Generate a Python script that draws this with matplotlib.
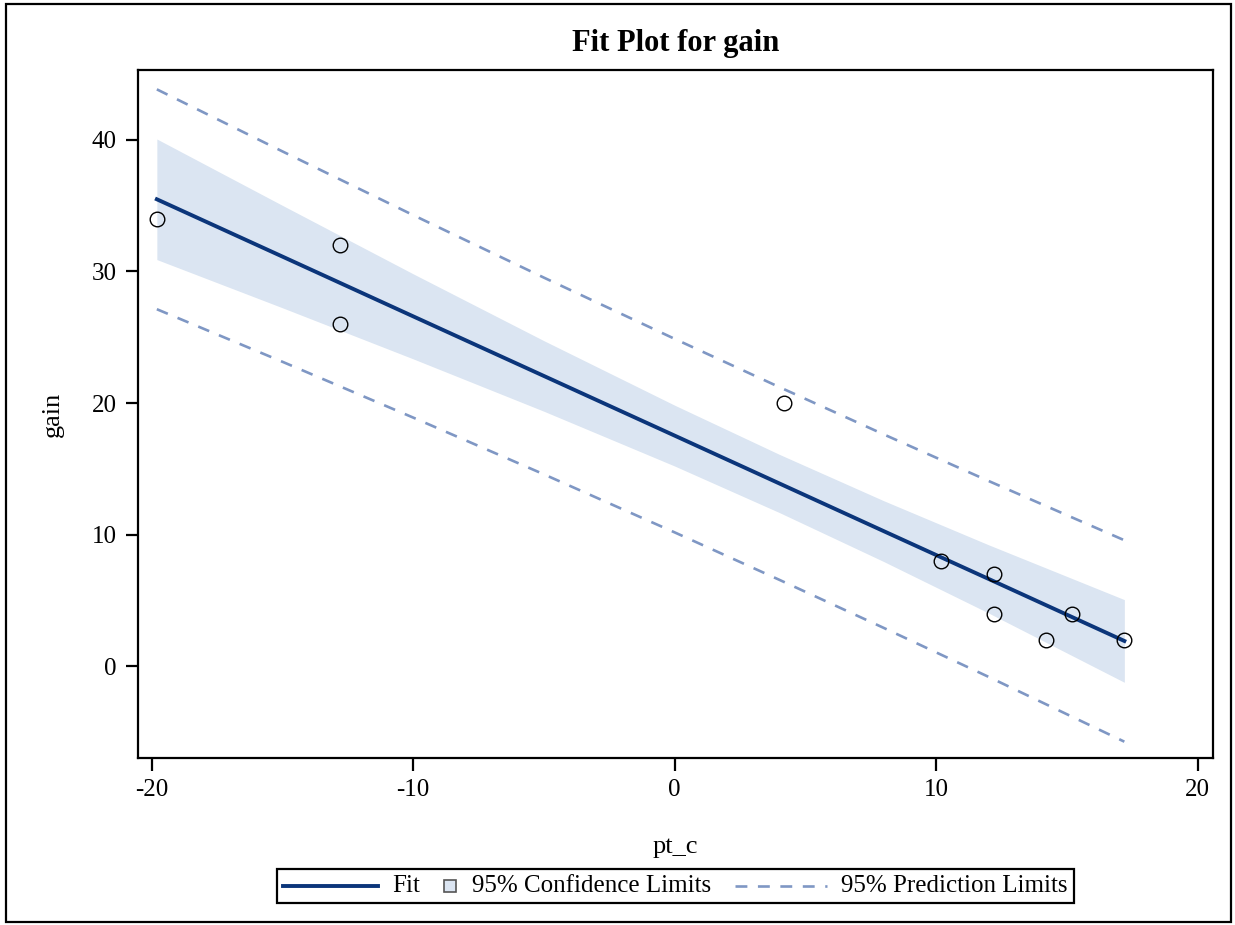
import matplotlib
matplotlib.use("Agg")
import matplotlib.pyplot as plt
from matplotlib.lines import Line2D
from matplotlib.patches import Rectangle
from matplotlib.offsetbox import (AnchoredOffsetbox, DrawingArea, HPacker,
                                  TextArea)

plt.rcParams['font.family'] = ['Liberation Serif', 'DejaVu Serif']
plt.rcParams['axes.unicode_minus'] = False

# observed points
pt_c = [-19.8, -12.8, -12.8, 4.2, 10.2, 12.2, 12.2, 14.2, 15.2, 17.2]
gain = [34, 32, 26, 20, 8, 7, 4, 2, 4, 2]

# fit line and limits at these x positions
band_x = [-19.8, -15, -10, -5, 0, 4, 8, 12, 17.2]
fit_y = [35.48, 31.13, 26.59, 22.06, 17.53, 13.90, 10.27, 6.65, 1.93]
cl_lo = [30.90, 27.24, 23.36, 19.38, 15.22, 11.69, 7.96, 4.06, -1.21]
cl_hi = [40.06, 35.02, 29.82, 24.74, 19.84, 16.11, 12.58, 9.24, 5.07]
pl_lo = [27.13, 23.14, 18.90, 14.59, 10.18, 6.58, 2.92, -0.79, -5.72]
pl_hi = [43.83, 39.12, 34.28, 29.53, 24.88, 21.22, 17.62, 14.09, 9.58]

x_ticks = [-20, -10, 0, 10, 20]
y_ticks = [0, 10, 20, 30, 40]

FIT_C = '#0b357a'
CL_C = '#dbe5f2'
PL_C = '#7f97c4'
FS = 18

fig = plt.figure(figsize=(12.35, 9.25), dpi=100)
ax = fig.add_axes([137.5 / 1235, 1 - 758 / 925, (1213 - 137.5) / 1235, (758 - 70) / 925])

ax.fill_between(band_x, cl_lo, cl_hi, color=CL_C, lw=0, zorder=1)
ax.plot(band_x, pl_hi, color=PL_C, lw=1.9, dashes=(4.5, 4), zorder=2)
ax.plot(band_x, pl_lo, color=PL_C, lw=1.9, dashes=(4.5, 4), zorder=2)
ax.plot(band_x, fit_y, color=FIT_C, lw=2.8, zorder=3)
ax.plot(pt_c, gain, 'o', ms=10.5, mfc='none', mec='black', mew=1.0, zorder=4)

ax.set_xlim(-20.54, 20.59)
ax.set_ylim(-6.96, 45.3)
ax.set_xticks(x_ticks)
ax.set_yticks(y_ticks)
ax.tick_params(direction='out', length=9, width=1.6, labelsize=FS, pad=6)
for s in ax.spines.values():
    s.set_linewidth(1.6)

ax.set_xlabel('pt_c', fontsize=19, labelpad=25)
ax.set_ylabel('gain', fontsize=19, labelpad=20)
ax.set_title('Fit Plot for gain', fontsize=22, fontweight='bold', pad=14)

# legend built by hand so the square swatch stays small
k = 0.72  # px -> pt at 100 dpi
tp = dict(fontsize=FS)

da_fit = DrawingArea(95 * k, 14 * k)
da_fit.add_artist(Line2D([0, 95 * k], [7 * k, 7 * k], color=FIT_C, lw=2.8))

da_cl = DrawingArea(24 * k, 14 * k)
da_cl.add_artist(Rectangle((10 * k, 1 * k), 12 * k, 12 * k, facecolor=CL_C,
                           edgecolor='#555555', lw=1.2))

da_pl = DrawingArea(102 * k, 14 * k)
da_pl.add_artist(Line2D([10 * k, 102 * k], [7 * k, 7 * k], color=PL_C,
                        lw=1.9, dashes=(4.5, 4)))

row = HPacker(children=[da_fit, TextArea('Fit', textprops=tp),
                        da_cl, TextArea('95% Confidence Limits', textprops=tp),
                        da_pl, TextArea('95% Prediction Limits', textprops=tp)],
              align='center', pad=0, sep=14 * k)
leg = AnchoredOffsetbox(loc='lower center', child=row, pad=0.25, borderpad=0,
                        frameon=True, bbox_to_anchor=(675.5 / 1235, 1 - 903 / 925),
                        bbox_transform=fig.transFigure, prop=dict(size=FS))
leg.patch.set_edgecolor('black')
leg.patch.set_linewidth(1.6)
leg.patch.set_boxstyle('square', pad=0)
fig.add_artist(leg)

# outer border
fig.add_artist(Rectangle((6 / 1235, 1 - 922 / 925), 1225 / 1235, 918 / 925,
                         transform=fig.transFigure, fill=False,
                         edgecolor='black', lw=1.6))

fig.savefig('out.png', dpi=100)
